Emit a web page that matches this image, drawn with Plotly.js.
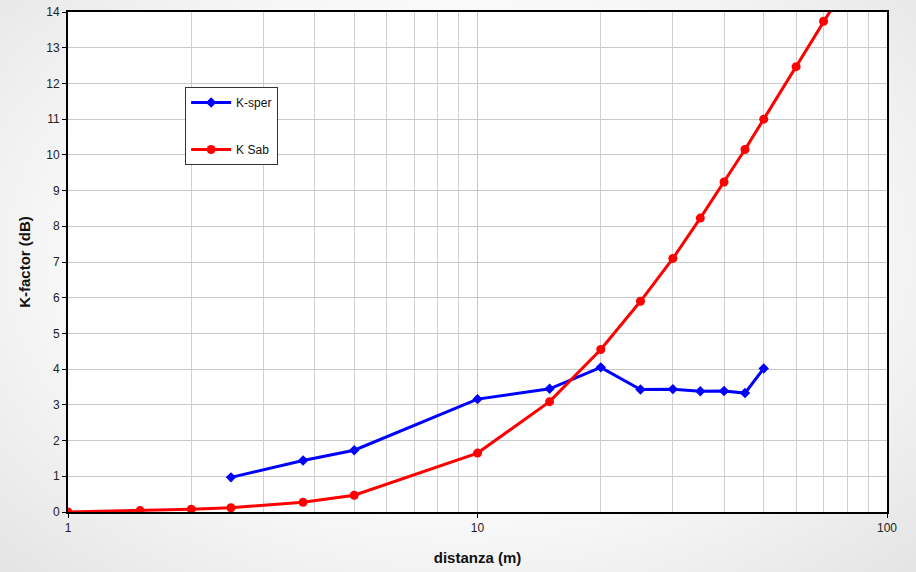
<!DOCTYPE html>
<html>
<head>
<meta charset="utf-8">
<script src="https://cdn.plot.ly/plotly-3.0.1.min.js"></script>
<style>
html,body{margin:0;padding:0;}
body{width:916px;height:572px;background:radial-gradient(ellipse at 50% 45%, #ffffff 45%, #e4e4e4 100%);}
#chart{width:916px;height:572px;}
</style>
</head>
<body>
<div id="chart"></div>
<script>
// K-sper data
const distSper = [2.5, 3.75, 5, 10, 15, 20, 25, 30, 35, 40, 45, 50];
const kSper    = [0.97, 1.44, 1.73, 3.16, 3.45, 4.05, 3.43, 3.44, 3.38, 3.39, 3.33, 4.02];
// K Sab data
const distSab = [1, 1.5, 2, 2.5, 3.75, 5, 10, 15, 20, 25, 30, 35, 40, 45, 50, 60, 70, 80];
const kSab    = [0, 0.04, 0.08, 0.12, 0.27, 0.47, 1.65, 3.09, 4.55, 5.9, 7.1, 8.23, 9.24, 10.15, 11.0, 12.47, 13.74, 14.8];
const xTickVals = [1, 10, 100];
const xTickText = ['1', '10', '100'];
const xMinorVals = [2,3,4,5,6,7,8,9,20,30,40,50,60,70,80,90];
const yTickVals = [0,1,2,3,4,5,6,7,8,9,10,11,12,13,14];

const traces = [
  {x: distSper, y: kSper, name: 'K-sper', type: 'scatter', mode: 'lines+markers',
   line: {color: '#0000ff', width: 3}, marker: {symbol: 'diamond', size: 8, color: '#0000ff'},
   legendgroup: 'a', cliponaxis: true},
  {x: distSab, y: kSab, name: 'K Sab', type: 'scatter', mode: 'lines+markers',
   line: {color: '#ff0000', width: 3}, marker: {symbol: 'circle', size: 9, color: '#ff0000'},
   legendgroup: 'b', cliponaxis: true}
];

const layout = {
  width: 916, height: 572,
  margin: {l: 68, r: 29, t: 12, b: 60},
  paper_bgcolor: 'rgba(0,0,0,0)',
  plot_bgcolor: '#ffffff',
  font: {family: 'Liberation Sans, Arial, sans-serif', size: 12, color: '#222'},
  showlegend: true,
  legend: {x: 0.143, y: 0.85, xanchor: 'left', yanchor: 'top',
    bgcolor: '#ffffff', bordercolor: '#333', borderwidth: 1,
    font: {size: 12, color: '#111'}, tracegroupgap: 28, itemwidth: 40},
  xaxis: {type: 'log', range: [0, 2], tickvals: xTickVals, ticktext: xTickText,
    showgrid: true, gridcolor: '#c8c8c8', gridwidth: 1,
    minor: {tickvals: xMinorVals, showgrid: true, gridcolor: '#cfcfcf', gridwidth: 1, ticks: ''},
    showline: true, linecolor: '#000', linewidth: 2, mirror: true,
    ticks: 'outside', ticklen: 4, tickcolor: '#000', zeroline: false,
    tickfont: {size: 12},
    title: {text: '<b>distanza (m)</b>', font: {size: 15, color: '#111'}, standoff: 18}},
  yaxis: {range: [0, 14], tickvals: yTickVals,
    showgrid: true, gridcolor: '#c8c8c8', gridwidth: 1,
    showline: true, linecolor: '#000', linewidth: 2, mirror: true,
    ticks: 'outside', ticklen: 4, tickcolor: '#000', zeroline: false,
    tickfont: {size: 12},
    title: {text: '<b>K-factor (dB)</b>', font: {size: 15, color: '#111'}, standoff: 12}}
};

Plotly.newPlot('chart', traces, layout, {displayModeBar: false, staticPlot: true});
</script>
</body>
</html>
